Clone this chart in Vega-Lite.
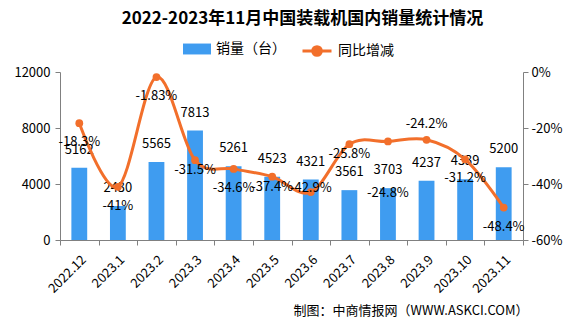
{
  "$schema": "https://vega.github.io/schema/vega-lite/v6.json",
  "autosize": "none",
  "width": 463,
  "height": 168,
  "padding": {"left": 60, "top": 72, "right": 53, "bottom": 87},
  "background": "white",
  "title": {
    "text": "2022-2023年11月中国装载机国内销量统计情况",
    "font": "Noto Sans CJK SC",
    "fontSize": 17,
    "fontWeight": "bold",
    "color": "#000000",
    "anchor": "middle",
    "dx": 11,
    "offset": 7
  },
  "data": {
    "values": [
      {"month": "2022.12", "sales": 5162, "yoy": -0.183},
      {"month": "2023.1", "sales": 2430, "yoy": -0.41},
      {"month": "2023.2", "sales": 5565, "yoy": -0.0183},
      {"month": "2023.3", "sales": 7813, "yoy": -0.315},
      {"month": "2023.4", "sales": 5261, "yoy": -0.346},
      {"month": "2023.5", "sales": 4523, "yoy": -0.374},
      {"month": "2023.6", "sales": 4321, "yoy": -0.429},
      {"month": "2023.7", "sales": 3561, "yoy": -0.258},
      {"month": "2023.8", "sales": 3703, "yoy": -0.248},
      {"month": "2023.9", "sales": 4237, "yoy": -0.242},
      {"month": "2023.10", "sales": 4339, "yoy": -0.312},
      {"month": "2023.11", "sales": 5200, "yoy": -0.484}
    ]
  },
  "encoding": {
    "x": {
      "field": "month",
      "type": "ordinal",
      "sort": null,
      "scale": {"paddingInner": 0, "paddingOuter": 0},
      "axis": {
        "title": "制图：中商情报网（WWW.ASKCI.COM）",
        "titleFont": "Noto Sans CJK SC",
        "titleFontSize": 13,
        "titleFontWeight": "normal",
        "titleColor": "#000000",
        "titleAnchor": "end",
        "titleAlign": "right",
        "titleBaseline": "middle",
        "titleX": 468,
        "titleY": 70,
        "labelAngle": -45,
        "labelAlign": "right",
        "labelBaseline": "top",
        "labelPadding": 8,
        "labelFont": "Noto Sans CJK SC",
        "labelFontSize": 13,
        "labelColor": "#000000",
        "tickBand": "extent",
        "tickSize": 5,
        "tickColor": "#808080",
        "domainColor": "#808080"
      }
    }
  },
  "layer": [
    {
      "encoding": {
        "y": {
          "field": "sales",
          "type": "quantitative",
          "scale": {"domain": [0, 12000], "nice": false},
          "axis": {
            "orient": "left",
            "title": null,
            "values": [0, 4000, 8000, 12000],
            "format": "d",
            "grid": false,
            "labelFont": "Noto Sans CJK SC",
            "labelFontSize": 13,
            "labelColor": "#000000",
            "labelPadding": 5,
            "tickSize": 5,
            "tickColor": "#808080",
            "domainColor": "#808080"
          }
        }
      },
      "layer": [
        {
          "mark": {"type": "bar", "width": {"band": 0.41}},
          "encoding": {
            "fill": {
              "datum": "销量（台）",
              "scale": {"range": ["#3f9cf0"]},
              "legend": {
                "title": null,
                "orient": "none",
                "legendX": 123,
                "legendY": -37,
                "padding": 0,
                "symbolType": "M-1,-0.39H1V0.39H-1Z",
                "symbolSize": 784,
                "symbolStrokeWidth": 0,
                "labelFont": "Noto Sans CJK SC",
                "labelFontSize": 14,
                "labelColor": "#000000",
                "labelOffset": 5
              }
            }
          }
        },
        {
          "mark": {"type": "text", "baseline": "middle", "dy": -18, "font": "Noto Sans CJK SC", "fontSize": 13, "color": "#000000"},
          "encoding": {"text": {"field": "sales", "type": "quantitative", "format": "d"}}
        }
      ]
    },
    {
      "encoding": {
        "y": {
          "field": "yoy",
          "type": "quantitative",
          "scale": {"domain": [-0.6, 0], "nice": false},
          "axis": {
            "orient": "right",
            "title": null,
            "values": [-0.6, -0.4, -0.2, 0],
            "format": ".0%",
            "grid": false,
            "labelFont": "Noto Sans CJK SC",
            "labelFontSize": 13,
            "labelColor": "#000000",
            "labelPadding": 3,
            "tickSize": 5,
            "tickColor": "#808080",
            "domainColor": "#808080"
          }
        }
      },
      "layer": [
        {
          "mark": {"type": "line", "interpolate": "cardinal", "strokeWidth": 3},
          "encoding": {
            "stroke": {
              "datum": "同比增减",
              "scale": {"range": ["#f26f2b"]},
              "legend": {
                "title": null,
                "orient": "none",
                "legendX": 241,
                "legendY": -37,
                "padding": 0,
                "symbolType": "M-1,0H1M0.3,0A0.3,0.3 0 1,1 -0.3,0A0.3,0.3 0 1,1 0.3,0Z",
                "symbolSize": 841,
                "symbolStrokeWidth": 3,
                "symbolFillColor": "#f26f2b",
                "labelFont": "Noto Sans CJK SC",
                "labelFontSize": 14,
                "labelColor": "#000000",
                "labelOffset": 5,
                "encode": {"symbols": {"update": {"fill": {"value": "#f26f2b"}, "stroke": {"value": "#f26f2b"}}}}
              }
            }
          }
        },
        {
          "mark": {"type": "point", "filled": true, "size": 60, "color": "#f26f2b", "opacity": 1}
        },
        {
          "transform": [{"filter": {"field": "month", "oneOf": ["2022.12", "2023.1", "2023.2", "2023.4", "2023.10", "2023.11"]}}],
          "mark": {"type": "text", "baseline": "middle", "dy": 19, "font": "Noto Sans CJK SC", "fontSize": 13, "color": "#000000"},
          "encoding": {"text": {"field": "yoy", "type": "quantitative", "format": ".2~%"}}
        },
        {
          "transform": [{"filter": {"field": "month", "oneOf": ["2023.3", "2023.5", "2023.7"]}}],
          "mark": {"type": "text", "baseline": "middle", "dy": 10, "font": "Noto Sans CJK SC", "fontSize": 13, "color": "#000000"},
          "encoding": {"text": {"field": "yoy", "type": "quantitative", "format": ".2~%"}}
        },
        {
          "transform": [{"filter": {"field": "month", "oneOf": ["2023.6"]}}],
          "mark": {"type": "text", "baseline": "middle", "dy": -4, "font": "Noto Sans CJK SC", "fontSize": 13, "color": "#000000"},
          "encoding": {"text": {"field": "yoy", "type": "quantitative", "format": ".2~%"}}
        },
        {
          "transform": [{"filter": {"field": "month", "oneOf": ["2023.9"]}}],
          "mark": {"type": "text", "baseline": "middle", "dy": -16, "font": "Noto Sans CJK SC", "fontSize": 13, "color": "#000000"},
          "encoding": {"text": {"field": "yoy", "type": "quantitative", "format": ".2~%"}}
        },
        {
          "transform": [{"filter": {"field": "month", "oneOf": ["2023.8"]}}],
          "mark": {"type": "text", "baseline": "middle", "dy": 52, "font": "Noto Sans CJK SC", "fontSize": 13, "color": "#000000"},
          "encoding": {"text": {"field": "yoy", "type": "quantitative", "format": ".2~%"}}
        }
      ]
    }
  ],
  "resolve": {"scale": {"y": "independent"}},
  "config": {
    "view": {"stroke": null},
    "locale": {"number": {"decimal": ".", "thousands": ",", "grouping": [3], "currency": ["$", ""], "minus": "-"}}
  }
}
